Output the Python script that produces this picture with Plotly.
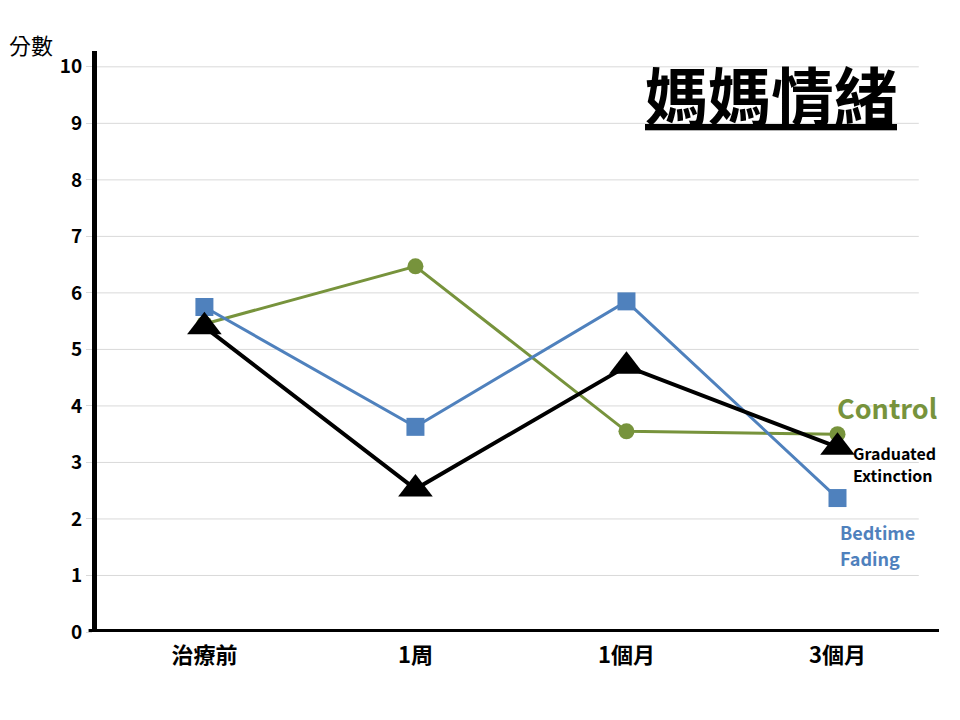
import plotly.graph_objects as go

categories = ["治療前", "1周", "1個月", "3個月"]
control = [5.45, 6.47, 3.55, 3.5]
bedtime_fading = [5.75, 3.63, 5.85, 2.37]
graduated_extinction = [5.4, 2.53, 4.7, 3.27]
y_ticks = list(range(0, 11))

FONT = "Noto Sans CJK TC, Noto Sans, sans-serif"
GREEN = "#77933C"
BLUE = "#4F81BD"
BLACK = "#000000"

xpos = list(range(len(categories)))

fig = go.Figure()
fig.add_trace(go.Scatter(x=xpos, y=control, mode="lines+markers", name="Control",
                         line=dict(color=GREEN, width=3),
                         marker=dict(symbol="circle", size=16, color=GREEN)))
fig.add_trace(go.Scatter(x=xpos, y=bedtime_fading, mode="lines+markers", name="Bedtime Fading",
                         line=dict(color=BLUE, width=3),
                         marker=dict(symbol="square", size=18, color=BLUE)))
fig.add_trace(go.Scatter(x=xpos, y=graduated_extinction, mode="lines+markers", name="Graduated Extinction",
                         line=dict(color=BLACK, width=4),
                         marker=dict(symbol="triangle-up", size=30, color=BLACK)))

fig.update_layout(
    width=960, height=720,
    margin=dict(l=89, r=29, t=43, b=96),
    paper_bgcolor="white", plot_bgcolor="white",
    showlegend=False,
    font=dict(family=FONT, color="black"),
    xaxis=dict(range=[-0.509, 3.481], tickvals=xpos, ticktext=categories,
               showgrid=False, zeroline=False, showline=False,
               tickfont=dict(size=22, family=FONT, weight=600), ticks="",
               ticklabelstandoff=8),
    yaxis=dict(range=[0, 10.28], tickvals=y_ticks, showgrid=False,
               zeroline=False, showline=True, linecolor="black", linewidth=5,
               tickfont=dict(size=19, family=FONT, weight="bold"),
               ticks="outside", ticklen=6, tickcolor="#D9D9D9"),
)

# light gridlines (ending before the right edge, as in the reference)
for t in y_ticks[1:]:
    fig.add_shape(type="line", xref="paper", yref="y", x0=0, x1=0.976, y0=t, y1=t,
                  line=dict(color="#D9D9D9", width=1), layer="below")

# thick x axis line at y=0
fig.add_shape(type="line", xref="paper", yref="y", x0=-0.01, x1=1, y0=0, y1=0,
              line=dict(color="black", width=6))

fig.add_annotation(text="分數", xref="paper", yref="paper", x=-0.107, y=1.012,
                   xanchor="left", yanchor="middle", showarrow=False,
                   font=dict(size=22, family=FONT, color="black"))
fig.add_annotation(text="<u>媽媽情緒</u>", xref="paper", yref="paper", x=0.953, y=0.929,
                   xanchor="right", yanchor="middle", showarrow=False,
                   font=dict(size=63, family=FONT, color="black", weight="bold"))

fig.add_annotation(text="Control", xref="paper", yref="y", x=0.877, y=3.97,
                   xanchor="left", yanchor="middle", showarrow=False,
                   font=dict(size=27, family=FONT, color=GREEN, weight="bold"))
fig.add_annotation(text="Graduated", xref="paper", yref="y", x=0.895, y=3.17,
                   xanchor="left", yanchor="middle", showarrow=False,
                   font=dict(size=16, family=FONT, color="black", weight="bold"))
fig.add_annotation(text="Extinction", xref="paper", yref="y", x=0.895, y=2.77,
                   xanchor="left", yanchor="middle", showarrow=False,
                   font=dict(size=16, family=FONT, color="black", weight="bold"))
fig.add_annotation(text="Bedtime", xref="paper", yref="y", x=0.880, y=1.77,
                   xanchor="left", yanchor="middle", showarrow=False,
                   font=dict(size=18, family=FONT, color=BLUE, weight="bold"))
fig.add_annotation(text="Fading", xref="paper", yref="y", x=0.880, y=1.31,
                   xanchor="left", yanchor="middle", showarrow=False,
                   font=dict(size=18, family=FONT, color=BLUE, weight="bold"))

fig.write_html("out.html")
